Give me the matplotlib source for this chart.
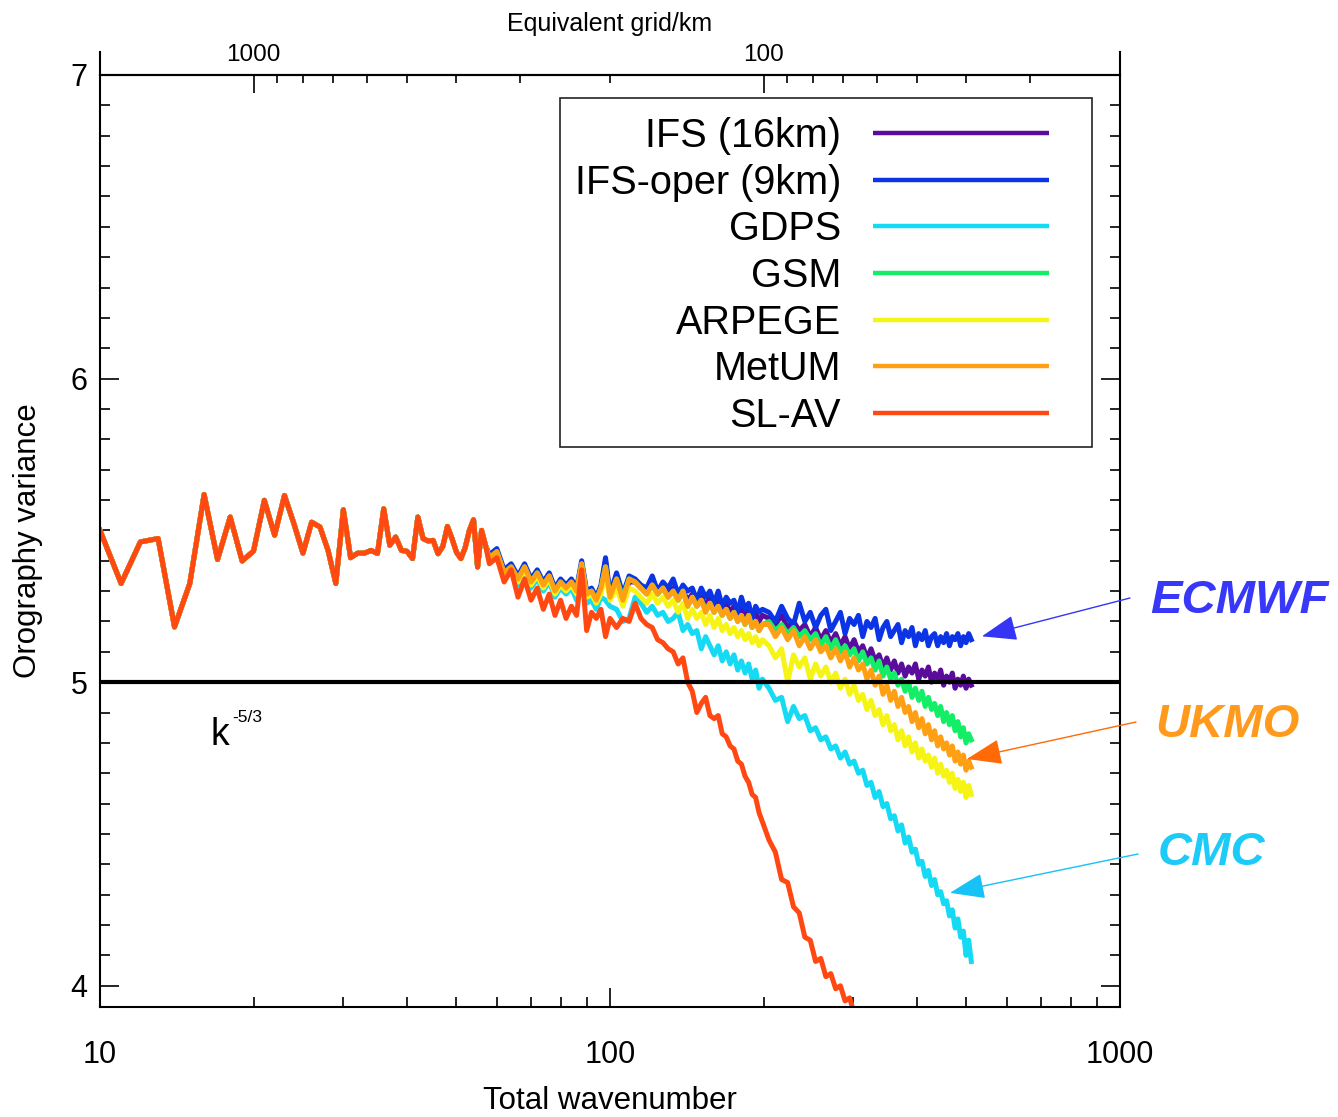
import matplotlib.pyplot as plt
from matplotlib.patches import Rectangle
from matplotlib.ticker import MultipleLocator, NullFormatter
import numpy as np

plt.rcParams['font.family'] = ['Liberation Sans', 'DejaVu Sans']

# total wavenumber, every k at the large scales where all models agree
k_low = [10, 11, 12, 13, 14, 15, 16, 17, 18, 19, 20, 21, 22, 23, 24, 25, 26, 27, 28, 29,
         30, 31, 32, 33, 34, 35, 36, 37, 38, 39, 40, 41, 42, 43, 44, 45, 46, 47, 48, 49,
         50, 51, 52, 53, 54, 55, 56, 57]
v_low = [5.50, 5.325, 5.462, 5.473, 5.182, 5.325, 5.618, 5.404, 5.544, 5.399,
         5.432, 5.599, 5.484, 5.615, 5.522, 5.425, 5.527, 5.511, 5.434, 5.325,
         5.568, 5.410, 5.425, 5.425, 5.434, 5.424, 5.571, 5.451, 5.478, 5.434,
         5.431, 5.407, 5.544, 5.473, 5.465, 5.467, 5.423, 5.447, 5.513, 5.473,
         5.428, 5.407, 5.443, 5.500, 5.535, 5.379, 5.500, 5.451]

# wavenumbers where the models start to differ (thinned)
k_tail = [58, 60, 62, 64, 66, 68, 70, 72, 74, 76, 78, 80, 82, 84, 86, 88, 90, 92, 94, 96, 98, 100,
          103, 106, 109, 112, 115, 118, 121, 124, 127, 130, 133, 136, 139, 142, 145, 148, 151,
          154, 157, 160, 163, 166, 169, 172, 175, 178, 181, 184, 187, 190, 193, 196, 199,
          205, 211, 217, 223, 229, 235, 241, 247, 253, 259, 265, 271, 277, 283, 289, 295, 301,
          307, 313, 319, 325, 331, 337, 343, 349, 355, 361, 367, 373, 379, 385, 391, 397, 403,
          409, 415, 421, 427, 433, 439, 445, 451, 457, 463, 469, 475, 481, 487, 493, 499, 505, 511]

ifs16_tail = [5.41, 5.43, 5.36, 5.38, 5.34, 5.38, 5.33, 5.36, 5.32, 5.35, 5.30, 5.33, 5.31, 5.33, 5.30, 5.39, 5.29, 5.30, 5.27, 5.31, 5.40, 5.28,
              5.33, 5.28, 5.33, 5.33, 5.31, 5.30, 5.32, 5.30, 5.31, 5.29, 5.31, 5.28, 5.30, 5.27, 5.29, 5.26, 5.28, 5.25, 5.28, 5.25,
              5.27, 5.24, 5.26, 5.23, 5.25, 5.22, 5.25, 5.21, 5.24, 5.21, 5.23, 5.20, 5.22,
              5.21, 5.19, 5.22, 5.18, 5.20, 5.17, 5.19, 5.15, 5.18, 5.14, 5.17, 5.13, 5.16, 5.12, 5.15, 5.11, 5.14, 5.10,
              5.12, 5.08, 5.11, 5.07, 5.09, 5.05, 5.08, 5.04, 5.07, 5.03, 5.06, 5.02, 5.05, 5.03, 5.06, 5.01, 5.04, 5.02,
              5.05, 5.00, 5.03, 5.01, 5.04, 4.99, 5.02, 5.00, 5.03, 4.98, 5.01, 4.99, 5.02, 4.98, 5.01, 4.99]
ifs9_tail = [5.42, 5.44, 5.37, 5.39, 5.35, 5.39, 5.34, 5.37, 5.33, 5.36, 5.31, 5.34, 5.32, 5.34, 5.31, 5.40, 5.30, 5.31, 5.28, 5.32, 5.41, 5.29,
             5.36, 5.29, 5.35, 5.34, 5.32, 5.31, 5.35, 5.30, 5.33, 5.31, 5.34, 5.29, 5.32, 5.30, 5.31, 5.27, 5.31, 5.28, 5.30, 5.26,
             5.30, 5.25, 5.28, 5.26, 5.27, 5.23, 5.28, 5.24, 5.26, 5.21, 5.25, 5.23, 5.24,
             5.23, 5.20, 5.25, 5.21, 5.19, 5.26, 5.20, 5.23, 5.18, 5.22, 5.24, 5.17, 5.20, 5.23, 5.16, 5.21, 5.19, 5.22,
             5.15, 5.20, 5.18, 5.21, 5.14, 5.18, 5.20, 5.15, 5.17, 5.19, 5.13, 5.17, 5.15, 5.18, 5.12, 5.16, 5.14, 5.17,
             5.12, 5.15, 5.16, 5.12, 5.15, 5.13, 5.16, 5.12, 5.15, 5.14, 5.16, 5.12, 5.15, 5.13, 5.16, 5.14]
gdps_tail = [5.40, 5.42, 5.35, 5.37, 5.32, 5.36, 5.31, 5.34, 5.30, 5.33, 5.28, 5.31, 5.29, 5.31, 5.27, 5.36, 5.26, 5.27, 5.24, 5.28, 5.27, 5.25,
             5.24, 5.20, 5.21, 5.28, 5.26, 5.23, 5.25, 5.22, 5.23, 5.20, 5.21, 5.23, 5.17, 5.19, 5.16, 5.17, 5.11, 5.15, 5.12, 5.09,
             5.12, 5.07, 5.10, 5.06, 5.09, 5.04, 5.07, 5.03, 5.06, 5.01, 5.04, 4.98, 5.01,
             4.98, 4.94, 4.95, 4.87, 4.92, 4.88, 4.89, 4.84, 4.85, 4.81, 4.82, 4.78, 4.79, 4.75, 4.77, 4.73, 4.74, 4.70,
             4.71, 4.66, 4.67, 4.62, 4.64, 4.59, 4.60, 4.55, 4.56, 4.51, 4.53, 4.47, 4.49, 4.44, 4.45, 4.40, 4.41, 4.36,
             4.38, 4.33, 4.35, 4.30, 4.31, 4.27, 4.28, 4.23, 4.25, 4.19, 4.22, 4.16, 4.18, 4.10, 4.15, 4.08]
gsm_tail = [5.41, 5.43, 5.36, 5.38, 5.34, 5.38, 5.33, 5.36, 5.32, 5.35, 5.30, 5.33, 5.31, 5.33, 5.30, 5.39, 5.29, 5.30, 5.27, 5.31, 5.38, 5.28,
            5.34, 5.28, 5.34, 5.33, 5.31, 5.29, 5.32, 5.29, 5.31, 5.28, 5.30, 5.27, 5.30, 5.25, 5.28, 5.25, 5.27, 5.24, 5.26, 5.23,
            5.25, 5.22, 5.24, 5.21, 5.23, 5.20, 5.22, 5.19, 5.22, 5.18, 5.20, 5.17, 5.19,
            5.20, 5.17, 5.19, 5.16, 5.18, 5.15, 5.17, 5.14, 5.16, 5.12, 5.15, 5.11, 5.14, 5.10, 5.12, 5.09, 5.11, 5.07,
            5.10, 5.06, 5.08, 5.04, 5.07, 5.02, 5.05, 5.01, 5.03, 4.99, 5.01, 4.97, 5.00, 4.95, 4.98, 4.94, 4.97, 4.92,
            4.95, 4.91, 4.93, 4.89, 4.92, 4.87, 4.90, 4.86, 4.89, 4.84, 4.87, 4.82, 4.85, 4.80, 4.83, 4.81]
arpege_tail = [5.40, 5.42, 5.35, 5.37, 5.33, 5.37, 5.32, 5.35, 5.31, 5.34, 5.29, 5.32, 5.30, 5.32, 5.29, 5.37, 5.28, 5.29, 5.26, 5.29, 5.36, 5.27,
               5.31, 5.25, 5.31, 5.30, 5.28, 5.26, 5.29, 5.26, 5.28, 5.25, 5.27, 5.23, 5.26, 5.21, 5.24, 5.21, 5.23, 5.19, 5.22, 5.18,
               5.21, 5.17, 5.19, 5.16, 5.18, 5.15, 5.17, 5.14, 5.16, 5.13, 5.15, 5.12, 5.14,
               5.12, 5.08, 5.11, 5.00, 5.09, 5.05, 5.08, 5.01, 5.06, 5.02, 5.05, 5.00, 5.03, 4.98, 5.01, 4.96, 4.99, 4.94,
               4.96, 4.91, 4.94, 4.89, 4.91, 4.86, 4.89, 4.84, 4.86, 4.81, 4.84, 4.79, 4.82, 4.77, 4.80, 4.75, 4.78, 4.74,
               4.76, 4.72, 4.75, 4.70, 4.73, 4.69, 4.71, 4.67, 4.70, 4.65, 4.68, 4.64, 4.67, 4.62, 4.66, 4.63]
metum_tail = [5.41, 5.43, 5.36, 5.38, 5.34, 5.38, 5.33, 5.36, 5.32, 5.35, 5.30, 5.33, 5.31, 5.33, 5.30, 5.39, 5.29, 5.30, 5.27, 5.31, 5.38, 5.28,
              5.34, 5.27, 5.34, 5.33, 5.31, 5.29, 5.32, 5.29, 5.31, 5.28, 5.30, 5.27, 5.30, 5.25, 5.28, 5.25, 5.27, 5.23, 5.26, 5.23,
              5.25, 5.22, 5.24, 5.21, 5.23, 5.20, 5.22, 5.19, 5.22, 5.18, 5.20, 5.17, 5.19,
              5.19, 5.15, 5.18, 5.14, 5.17, 5.12, 5.15, 5.11, 5.14, 5.10, 5.12, 5.08, 5.11, 5.07, 5.10, 5.05, 5.08, 5.04,
              5.06, 5.01, 5.04, 4.99, 5.02, 4.96, 4.99, 4.94, 4.97, 4.92, 4.95, 4.90, 4.92, 4.87, 4.90, 4.85, 4.88, 4.83,
              4.86, 4.81, 4.84, 4.79, 4.82, 4.78, 4.80, 4.76, 4.79, 4.74, 4.77, 4.73, 4.76, 4.71, 4.74, 4.72]
slav_tail = [5.39, 5.41, 5.33, 5.37, 5.28, 5.34, 5.27, 5.31, 5.24, 5.29, 5.22, 5.27, 5.21, 5.25, 5.22, 5.37, 5.17, 5.23, 5.21, 5.24, 5.15, 5.21,
             5.18, 5.21, 5.20, 5.26, 5.21, 5.19, 5.18, 5.14, 5.13, 5.11, 5.10, 5.06, 5.08, 5.00, 4.97, 4.90, 4.93, 4.95, 4.89, 4.88,
             4.89, 4.83, 4.82, 4.79, 4.78, 4.74, 4.73, 4.69, 4.67, 4.63, 4.62, 4.57, 4.54,
             4.48, 4.44, 4.35, 4.34, 4.26, 4.24, 4.16, 4.15, 4.08, 4.09, 4.03, 4.04, 3.99, 4.00, 3.95, 3.96, 3.91, 3.88]

names = ['IFS (16km)', 'IFS-oper (9km)', 'GDPS', 'GSM', 'ARPEGE', 'MetUM', 'SL-AV']
tails = [ifs16_tail, ifs9_tail, gdps_tail, gsm_tail, arpege_tail, metum_tail, slav_tail]
colors = ['#5a0c9c', '#0b34e4', '#14daf4', '#14ee66', '#f6f414', '#ffa014', '#ff4812']

# top axis ticks (km)
grid_major = [1000, 100]
grid_minor = [900, 800, 700, 600, 500, 400, 300, 200, 90, 80, 70, 60, 50, 40, 30, 20]

fig = plt.figure(figsize=(13.38, 11.17), dpi=100)
ax = fig.add_axes([100 / 1338, 1 - 1007 / 1117, 1020 / 1338, 932 / 1117])

for name, tail, c in zip(names, tails, colors):
    k = k_low + k_tail[:len(tail)]
    v = v_low + tail
    ax.plot(k, v, color=c, lw=3.6, label=name)

ax.axhline(5, color='black', lw=3, zorder=5)

ax.set_xscale('log')
ax.set_xlim(10, 1000)
ax.set_ylim(3.93, 7.0)
ax.set_xticks([10, 100, 1000], ['10', '100', '1000'])
ax.xaxis.set_minor_formatter(NullFormatter())
ax.set_yticks([4, 5, 6, 7])
ax.yaxis.set_minor_locator(MultipleLocator(0.1))
ax.tick_params(which='both', direction='in', top=False, right=True,
               labelsize=22, width=1.2)
ax.tick_params(which='major', length=14)
ax.tick_params(which='minor', length=7)
ax.tick_params(axis='x', pad=24)
ax.tick_params(axis='y', pad=9)
for s in ax.spines.values():
    s.set_linewidth(1.5)

ax.set_xlabel('Total wavenumber', fontsize=22.5, labelpad=11)
ax.set_ylabel('Orography variance', fontsize=22.5, labelpad=20)


def to_grid(x):
    x = np.asarray(x, dtype=float)
    with np.errstate(divide='ignore'):
        return 20000.0 / x


sec = ax.secondary_xaxis('top', functions=(to_grid, to_grid))
sec.set_xticks(grid_major, ['1000', '100'])
sec.set_xticks(grid_minor, minor=True)
sec.xaxis.set_minor_formatter(NullFormatter())
sec.tick_params(which='both', direction='in', labelsize=17.5, pad=6.5, width=1.2)
sec.tick_params(which='major', length=13)
sec.tick_params(which='minor', length=6)
sec.spines['top'].set_linewidth(1.5)
sec.set_xlabel('Equivalent grid/km', fontsize=18, labelpad=9)

# side axes poke above the top axis
for xa in (0, 1):
    ax.plot([xa, xa], [1, 1.025], transform=ax.transAxes, clip_on=False,
            color='black', lw=1.5)


# legend: labels right aligned, lines on the right
def fx(px):
    return (px - 100) / 1020


def fy(py):
    return (1007 - py) / 932


ax.add_patch(Rectangle((fx(560), fy(447)), fx(1092) - fx(560), fy(98) - fy(447),
                       transform=ax.transAxes, facecolor='white',
                       edgecolor='#222222', lw=1.2, zorder=6))
for i, (name, c) in enumerate(zip(names, colors)):
    yl = 133.3 + 46.56 * i
    ax.text(fx(841), fy(yl + 14), name, transform=ax.transAxes, fontsize=28.5,
            ha='right', va='baseline', zorder=7)
    ax.plot([fx(873), fx(1049)], [fy(yl), fy(yl)], transform=ax.transAxes,
            color=c, lw=3.2, zorder=7, solid_capstyle='butt')

ax.text(16.44, 4.793, 'k', fontsize=27, ha='left', va='baseline')
ax.text(18.2, 4.868, '-5/3', fontsize=12.5, ha='left', va='baseline')

# centre labels with arrows
notes = [('ECMWF', '#3838f8', '#3535f5', 1150, 613, 1130, 598, 536, 5.151),
         ('UKMO', '#ff9a1c', '#ff6a06', 1155, 737, 1136, 722, 501, 4.747),
         ('CMC', '#1ccbf8', '#16c2f6', 1158, 865, 1138, 854, 464, 4.306)]
for txt, tc, ac, tx, ty, sx, sy, kx, vy in notes:
    fig.text(tx / 1338, 1 - ty / 1117, txt, color=tc, fontsize=34,
             fontweight='bold', fontstyle='italic', ha='left', va='baseline')
    ax.annotate('', xy=(kx, vy), xycoords='data',
                xytext=(sx / 1338, 1 - sy / 1117), textcoords='figure fraction',
                arrowprops=dict(arrowstyle='-|>,head_length=1.1,head_width=0.4',
                                color=ac, lw=1.0, mutation_scale=20,
                                shrinkA=0, shrinkB=0),
                annotation_clip=False)

fig.savefig('out.png', dpi=100)
